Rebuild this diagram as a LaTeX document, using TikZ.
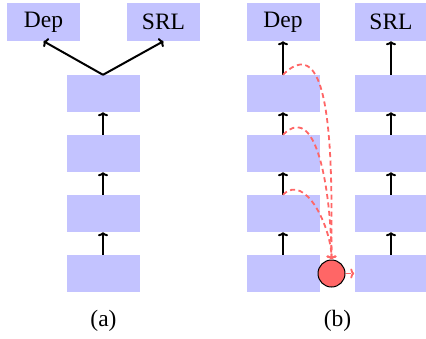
\documentclass[tikz,border=0pt]{standalone}
\usepackage{fontspec}
\setmainfont{Liberation Serif}
\usetikzlibrary{arrows.meta}
\definecolor{boxblue}{RGB}{195,195,255}
\definecolor{lightred}{RGB}{255,102,102}
\begin{document}
\begin{tikzpicture}[x=1pt,y=-1pt,
  >={To[length=4pt,width=10pt]},
  layer/.style={rectangle,fill=boxblue,minimum width=73pt,minimum height=37pt,inner sep=0pt},
  outbox/.style={layer,minimum height=38pt,font=\fontsize{23.5}{28}\selectfont},
  captext/.style={font=\fontsize{23.5}{28}\selectfont},
  up/.style={->,line width=2pt,black},
  rdash/.style={->,line width=1.8pt,lightred,dash pattern=on 5pt off 3.5pt},
  gate/.style={circle,fill=lightred,draw=black,line width=1pt,minimum size=27pt,inner sep=0pt}]
\useasboundingbox (0,0) rectangle (426,338);
% (a)
\node[outbox] (adep) at (43.5,22) {Dep};
\node[outbox] (asrl) at (163.5,22) {SRL};
\node[layer] (a1) at (103,93.5) {};
\node[layer] (a2) at (103,153.5) {};
\node[layer] (a3) at (103,213.5) {};
\node[layer] (a4) at (103,273.5) {};
\draw[up] (a1.north) -- (adep.south);
\draw[up] (a1.north) -- (asrl.south);
\draw[up] (a2) -- (a1);
\draw[up] (a3) -- (a2);
\draw[up] (a4) -- (a3);
\node[captext] (capa) at (103.5,321) {(a)};
% (b)
\node[outbox] (bdep) at (283,22) {Dep};
\node[outbox] (bsrl) at (391,22) {SRL};
\node[layer] (b1) at (283,93.5) {};
\node[layer] (b2) at (283,153.5) {};
\node[layer] (b3) at (283,213.5) {};
\node[layer] (b4) at (283,273.5) {};
\node[layer] (c1) at (391,93.5) {};
\node[layer] (c2) at (391,153.5) {};
\node[layer] (c3) at (391,213.5) {};
\node[layer] (c4) at (391,273.5) {};
\draw[up] (b1) -- (bdep);
\draw[up] (b2) -- (b1);
\draw[up] (b3) -- (b2);
\draw[up] (b4) -- (b3);
\draw[up] (c1) -- (bsrl);
\draw[up] (c2) -- (c1);
\draw[up] (c3) -- (c2);
\draw[up] (c4) -- (c3);
\node[gate] (g) at (331.5,273.5) {};
\draw[rdash] (b1.north) to[out=45,in=90] (g.north);
\draw[rdash] (b2.north) to[out=45,in=90] (g.north);
\draw[rdash] (b3.north) to[out=45,in=90] (g.north);
\draw[rdash] (g.east) -- (c4.west);
\node[captext] (capb) at (337.5,321) {(b)};
\end{tikzpicture}
\end{document}
